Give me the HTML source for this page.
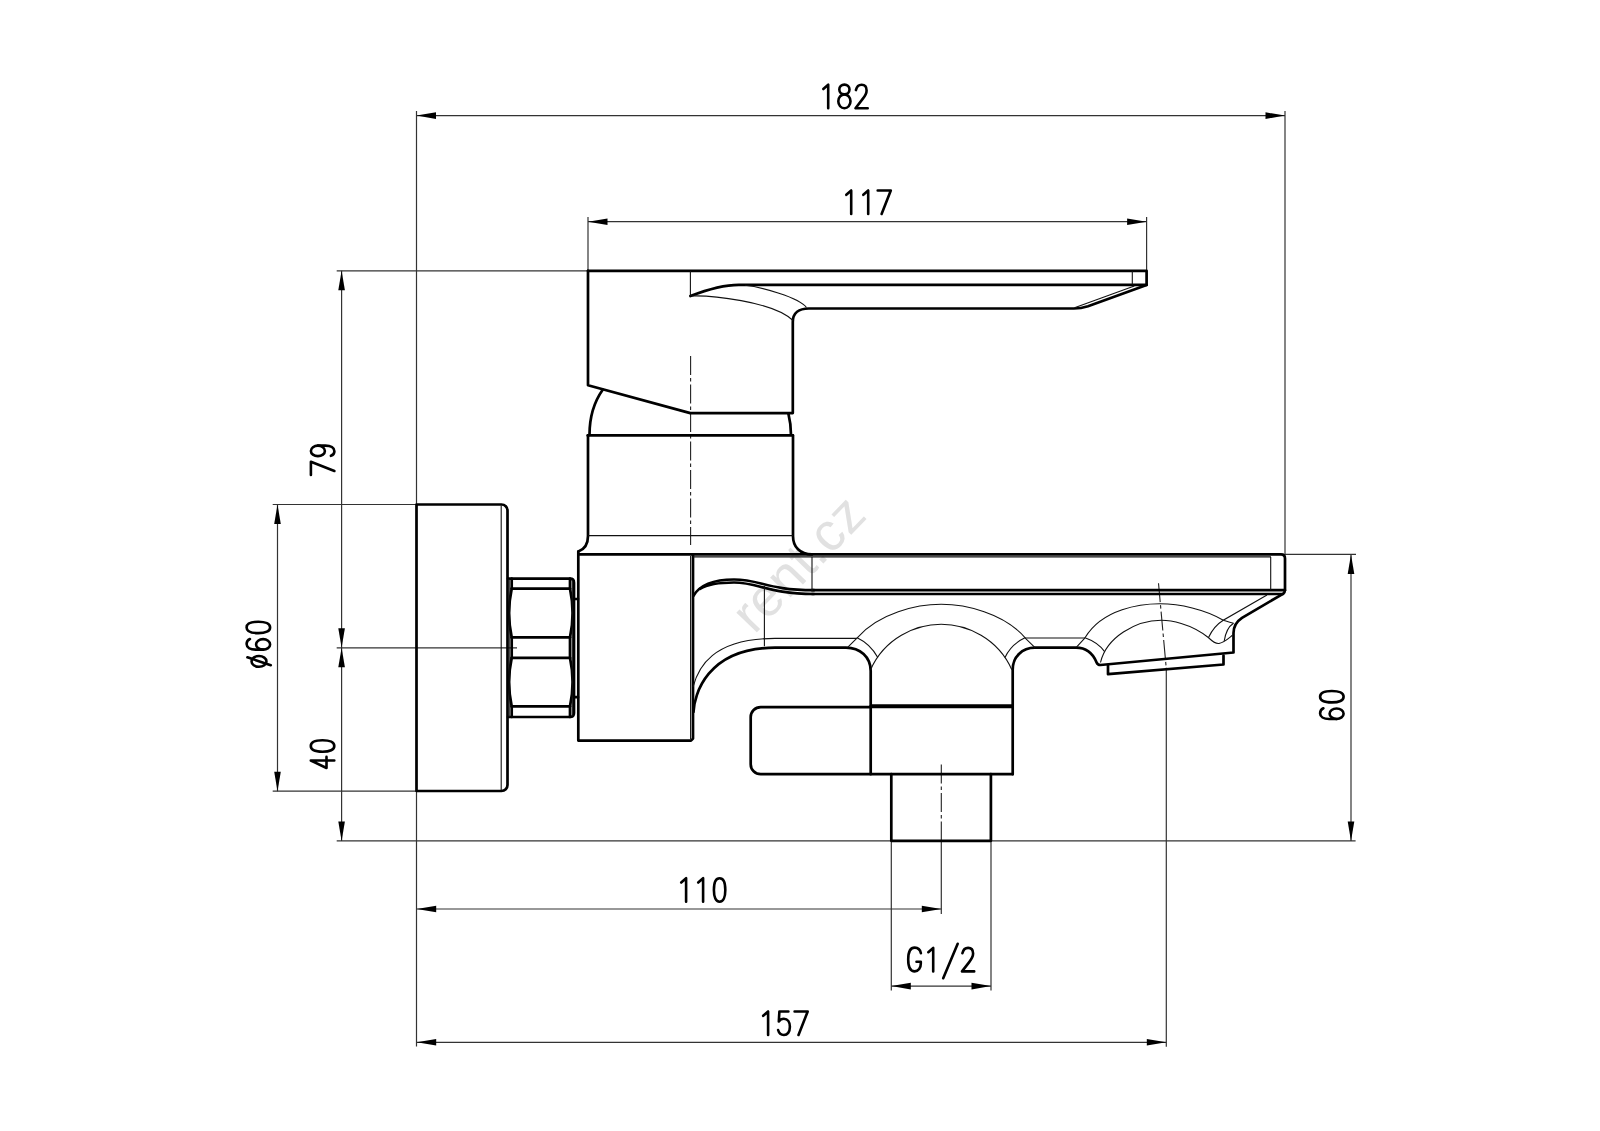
<!DOCTYPE html>
<html><head><meta charset="utf-8"><style>
html,body{margin:0;padding:0;background:#fff;}
svg{display:block;}
.k{fill:none;stroke:#000;stroke-width:2.7;stroke-linejoin:round;stroke-linecap:round;}
.kk{fill:none;stroke:#000;stroke-width:4;}
.t{fill:none;stroke:#111;stroke-width:1.1;}
.d{fill:none;stroke:#333;stroke-width:1.2;}
.c{fill:none;stroke:#222;stroke-width:1.1;stroke-dasharray:19 3 3.5 3;}
.a{fill:#000;stroke:none;}
.f{fill:none;stroke:#000;stroke-width:2.6;stroke-linecap:round;stroke-linejoin:round;}
.wm{font-family:"Liberation Sans",sans-serif;font-size:53.5px;fill:#e1e1e1;letter-spacing:0.6px;}
</style></head><body>
<svg width="1600" height="1131" viewBox="0 0 1600 1131">
<rect width="1600" height="1131" fill="#fff"/>

<!-- watermark -->
<text class="wm" transform="translate(754.2,635) rotate(-46)">rent.cz</text>

<!-- ===== dimension & extension lines ===== -->
<g class="d">
<path d="M416.5,111 V1046.5"/>
<path d="M416.5,115.6 H1285"/>
<path d="M1285,111 V554.4"/>
<path d="M588,217 V271"/>
<path d="M1146.6,217 V271"/>
<path d="M588,221.7 H1146.6"/>
<path d="M336.7,270.8 H588"/>
<path d="M341.6,270.8 V840.9"/>
<path d="M336.7,647.8 H517"/>
<path d="M336.7,840.9 H1355.6"/>
<path d="M277.5,504.5 V791.2"/>
<path d="M272.7,504.5 H417"/>
<path d="M272.7,791.2 H417"/>
<path d="M1351,554.4 V840.9"/>
<path d="M1285,554.4 H1356"/>
<path d="M416.7,909 H941.3"/>
<path d="M941.3,840 V914"/>
<path d="M891.3,840 V990.6"/>
<path d="M991,840 V990.6"/>
<path d="M891.3,986.1 H991"/>
<path d="M416.7,1042.3 H1166.3"/>
<path d="M1166.3,667.7 V1046.7"/>
</g>
<path class="c" d="M1158.5,583.2 L1166.2,667.7"/>
<path class="c" d="M941.3,764.5 V840"/>
<path class="c" d="M690.6,356 V545"/>

<!-- arrows -->
<g class="a">
<polygon points="416.5,115.6 436,112.3 436,118.9"/>
<polygon points="1285,115.6 1265.5,112.3 1265.5,118.9"/>
<polygon points="588,221.7 607.5,218.4 607.5,225"/>
<polygon points="1146.6,221.7 1127.1,218.4 1127.1,225"/>
<polygon points="341.6,270.8 338.3,290.3 344.9,290.3"/>
<polygon points="341.6,647.8 338.3,628.3 344.9,628.3"/>
<polygon points="341.6,647.8 338.3,667.3 344.9,667.3"/>
<polygon points="341.6,840.9 338.3,821.4 344.9,821.4"/>
<polygon points="277.5,504.5 274.2,524 280.8,524"/>
<polygon points="277.5,791.2 274.2,771.7 280.8,771.7"/>
<polygon points="1351,554.4 1347.7,573.9 1354.3,573.9"/>
<polygon points="1351,840.9 1347.7,821.4 1354.3,821.4"/>
<polygon points="416.7,909 436.2,905.7 436.2,912.3"/>
<polygon points="941.3,909 921.8,905.7 921.8,912.3"/>
<polygon points="891.3,986.1 910.8,982.8 910.8,989.4"/>
<polygon points="991,986.1 971.5,982.8 971.5,989.4"/>
<polygon points="416.7,1042.3 436.2,1039 436.2,1045.6"/>
<polygon points="1166.3,1042.3 1146.8,1039 1146.8,1045.6"/>
</g>

<!-- texts (stroke font) -->
<defs>
<g id="g0"><path d="M8.5,-23.5 C12.3,-23.5 14.2,-19 14.2,-11.75 C14.2,-4.5 12.3,0 8.5,0 C4.7,0 2.8,-4.5 2.8,-11.75 C2.8,-19 4.7,-23.5 8.5,-23.5 Z"/></g>
<g id="g1"><path d="M4.1,-19.2 L9,-23.5 V0"/></g>
<g id="g2"><path d="M2.7,-18.1 C3.5,-21.5 5.5,-23.5 8.4,-23.5 C11.5,-23.5 13.4,-21.2 13.4,-17.8 C13.4,-14.5 11.8,-12.2 9.5,-9.3 L2.3,0 H14.5"/></g>
<g id="g4"><path d="M11,0 V-23.5 L3.5,-7.8 H14.6"/></g>
<g id="g5"><path d="M12.3,-23.5 H3.3 L2.7,-13.5 C4,-15.5 6,-16.3 7.8,-16.3 C11.5,-16.3 13.8,-13 13.8,-8.2 C13.8,-3 11.3,0 7.8,0 C5,0 2.8,-2 2,-5"/></g>
<g id="g6"><ellipse cx="8.5" cy="-7" rx="5.25" ry="7"/><path d="M3.25,-7 V-14.5 C3.25,-20 5.5,-23.5 8.8,-23.5 C11.2,-23.5 13,-22.2 13.9,-20.2"/></g>
<g id="g7"><path d="M1.5,-23.5 H14.6 L5.4,0"/></g>
<g id="g8"><ellipse cx="8.2" cy="-18.7" rx="5.1" ry="4.9"/><ellipse cx="8.2" cy="-6.85" rx="6.1" ry="6.95"/></g>
<g id="g9"><ellipse cx="8.5" cy="-16.5" rx="5.25" ry="7"/><path d="M13.75,-16.5 V-9 C13.75,-3.5 11.5,0 8.2,0 C5.8,0 4.3,-1.4 3.6,-3.5"/></g>
<g id="gG"><path d="M14.2,-18.2 C13.5,-21.8 11.3,-23.8 8,-23.8 C3.8,-23.8 1.5,-19.5 1.5,-11.9 C1.5,-4.3 3.8,0 8,0 C11.8,0 14.1,-3.5 14.1,-8 V-9.6 H9.8"/></g>
<g id="gS"><path d="M15.8,-27.6 L1.3,6.8"/></g>
<g id="gD"><ellipse cx="8.5" cy="-11.1" rx="5.35" ry="7.45"/><path d="M12.6,-22.7 L4.7,0.7"/></g>
</defs>
<g class="f">
<g transform="translate(819.2,108.2)"><use href="#g1"/><use href="#g8" x="17"/><use href="#g2" x="34"/></g>
<g transform="translate(842.2,214)"><use href="#g1"/><use href="#g1" x="17"/><use href="#g7" x="34"/></g>
<g transform="translate(677.1,901.7)"><use href="#g1"/><use href="#g1" x="17"/><use href="#g0" x="34"/></g>
<g transform="translate(759.1,1035)"><use href="#g1"/><use href="#g5" x="17"/><use href="#g7" x="34"/></g>
<g transform="translate(906.7,971.4)"><use href="#gG"/><use href="#g1" x="17.5"/><use href="#gS" x="35.2"/><use href="#g2" x="53"/></g>
<g transform="translate(334.4,476.4) rotate(-90)"><use href="#g7"/><use href="#g9" x="17"/></g>
<g transform="translate(334.3,771.5) rotate(-90)"><use href="#g4"/><use href="#g0" x="17"/></g>
<g transform="translate(270.1,669.9) rotate(-90)"><use href="#gD"/><use href="#g6" x="17"/><use href="#g0" x="34"/></g>
<g transform="translate(1343.6,722.2) rotate(-90)"><use href="#g6"/><use href="#g0" x="17"/></g>
</g>

<!-- ===== object ===== -->
<!-- handle -->
<g class="k">
<path d="M588,270.8 H1146.6 V284.8 H738.8 C722,284.8 706,290 690.4,296"/>
<path d="M588,270.8 V385.3 L690.3,413.1 H792.8 V322 C792.8,313 799,308.5 808.8,308.5 H1074 C1080,308.5 1084,307.5 1088,306.2 L1146.6,285"/>
</g>
<g class="t">
<path d="M1132.3,271 V284.8"/>
<path d="M690.4,271 V296"/>
<path d="M690.4,296 C709,295.2 772.8,301 793,320.5"/>
<path d="M745,285.3 C760.7,287 799.2,297.4 806.5,307.5"/>
<path d="M1074.5,307.8 L1134.3,286"/>
</g>
<!-- cartridge -->
<g class="k">
<path d="M602.7,389.7 C594,402 589.5,418 589.5,434.8"/>
<path d="M788.4,413.6 C790,420 791,428 791,434.8"/>
<path d="M587.7,435.4 H792.8"/>
<path d="M588,435.4 V536 C588,544.5 584,549.5 578.3,551.5"/>
<path d="M793,435.4 V536 C793,547 800,554.4 812,554.4"/>
</g>
<path class="t" d="M588,535.6 H793"/>

<!-- body block -->
<path class="k" d="M578.3,551.5 V740.6 H691 L693,738.6 V554.4 M578.3,554.4 H693"/>
<path class="t" d="M690.6,556 V739"/>

<!-- spout -->
<g class="k">
<path d="M693,554.4 H1281 Q1285,554.4 1285,558.4 V589.5 Q1285,592.5 1283,593.8 L1242,617.8 C1237.5,620.8 1233.5,626 1233.5,633 V652.5 L1100.5,665 Q1097.6,665 1096.6,662.5 C1093.5,655 1087,647.7 1076,647.7 H1035 C1022,647.7 1012.7,657 1012.7,669.7 V774.2"/>
<path d="M812,590.2 H1285"/>
<path d="M812,594 H1283"/>
<path d="M693.3,596 C701.9,581.2 720.6,579.5 734,579.5 C760.8,579.5 767,590.2 814,590.2"/>
<path d="M700,588.8 C708,584 720,582.5 734,582.5 C759,582.5 768.1,594 814,594"/>
<path d="M693.5,712 C694.1,695.7 706.5,647.7 775,647.7 H846 C860,647.7 870.7,657 870.7,671 V706"/>
<path d="M1108,665.2 V674.2 L1223.5,664.5 V655.5"/>
</g>
<g class="t">
<path d="M693,556.9 H1271"/>
<path d="M812,557 V591"/>
<path d="M1270.7,557 V590"/>
<path d="M764.4,585.8 V646.2"/>
<path d="M693,687 C698,668 712,638.4 775,638.4 H857.2"/>
<path d="M857.2,637.8 C878.8,612.9 917.1,604.3 941.2,604.3 C965.3,604.3 1003.6,612.9 1025.2,637.8"/>
<path d="M870.6,669.7 C884.5,638.5 915.2,624.3 941.2,624.3 C967.2,624.3 997.9,638.5 1011.8,669.7"/>
<path d="M847.6,647.4 L857.2,637.8 C866,642 873,649 877.8,657.4"/>
<path d="M1035,647.7 L1025,637.8 C1016,642 1009,649 1005,657.4"/>
<path d="M1025,638 H1085"/>
<path d="M1076.5,647.2 L1085,637.8 C1094,641 1100.5,646 1104.6,651.6"/>
<path d="M1085,637.8 C1102.6,608.4 1141.5,603.8 1159.9,603.8 C1179.9,603.8 1204.9,609.4 1223.3,620.2"/>
<path d="M1100.5,662.5 C1106.3,637.6 1135.5,620.3 1161.3,620.3 C1170,620.3 1190,623 1208.3,637.5 C1213,642 1216,644 1219,643.5 C1225,642 1229,638 1232.5,635.2"/>
<path d="M1208.5,637.5 C1212,630 1217,624 1223.3,620.2"/>
<path d="M1224.2,641 C1225.5,633 1228.5,626.5 1233.5,623.3"/>
<path d="M1267,595 L1223.3,620.2 C1226.5,621.3 1229.5,622.5 1233.5,623.3"/>
</g>

<!-- diverter -->
<g class="k">
<path d="M870.7,707.1 H760.7 A10,10 0 0 0 750.7,717.1 V764.2 A10,10 0 0 0 760.7,774.2 H1012.7"/>
<path d="M870.7,706 V774.2"/>
<path d="M891.3,774.2 V840.8 H990.9 V774.2"/>
</g>
<path class="kk" d="M870.7,706.3 H1012.7"/>

<!-- wall plate -->
<path class="k" d="M416.5,504.5 H501.5 A6,6 0 0 1 507.5,510.5 V785 A6,6 0 0 1 501.5,791 H416.5 Z"/>
<path class="t" d="M501.2,505.5 V790"/>

<!-- hex nut -->
<g class="k">
<path d="M508,578.7 H570 Q574,578.7 574,582.7 V713 Q574,717 570,717 H508"/>
<path d="M511.7,588.6 H570 M511.7,637.4 H570 M511.7,657.9 H570 M511.7,706.4 H570"/>
<path d="M511.7,578.7 V588.6 M511.7,637.4 V657.9 M511.7,706.4 V717"/>
<path d="M570,578.7 V588.6 M570,637.4 V657.9 M570,706.4 V717"/>
<path d="M511.7,588.6 Q506.5,613 511.7,637.4 M511.7,657.9 Q506.5,682 511.7,706.4"/>
<path d="M570,588.6 Q575.2,613 570,637.4 M570,657.9 Q575.2,682 570,706.4"/>
<path d="M574,599 H578 M574,697.2 H578"/>
</g>
<g class="t">
<path d="M509.2,579 V717"/>
<path d="M572.3,580 V716"/>
</g>
</svg>
</body></html>
